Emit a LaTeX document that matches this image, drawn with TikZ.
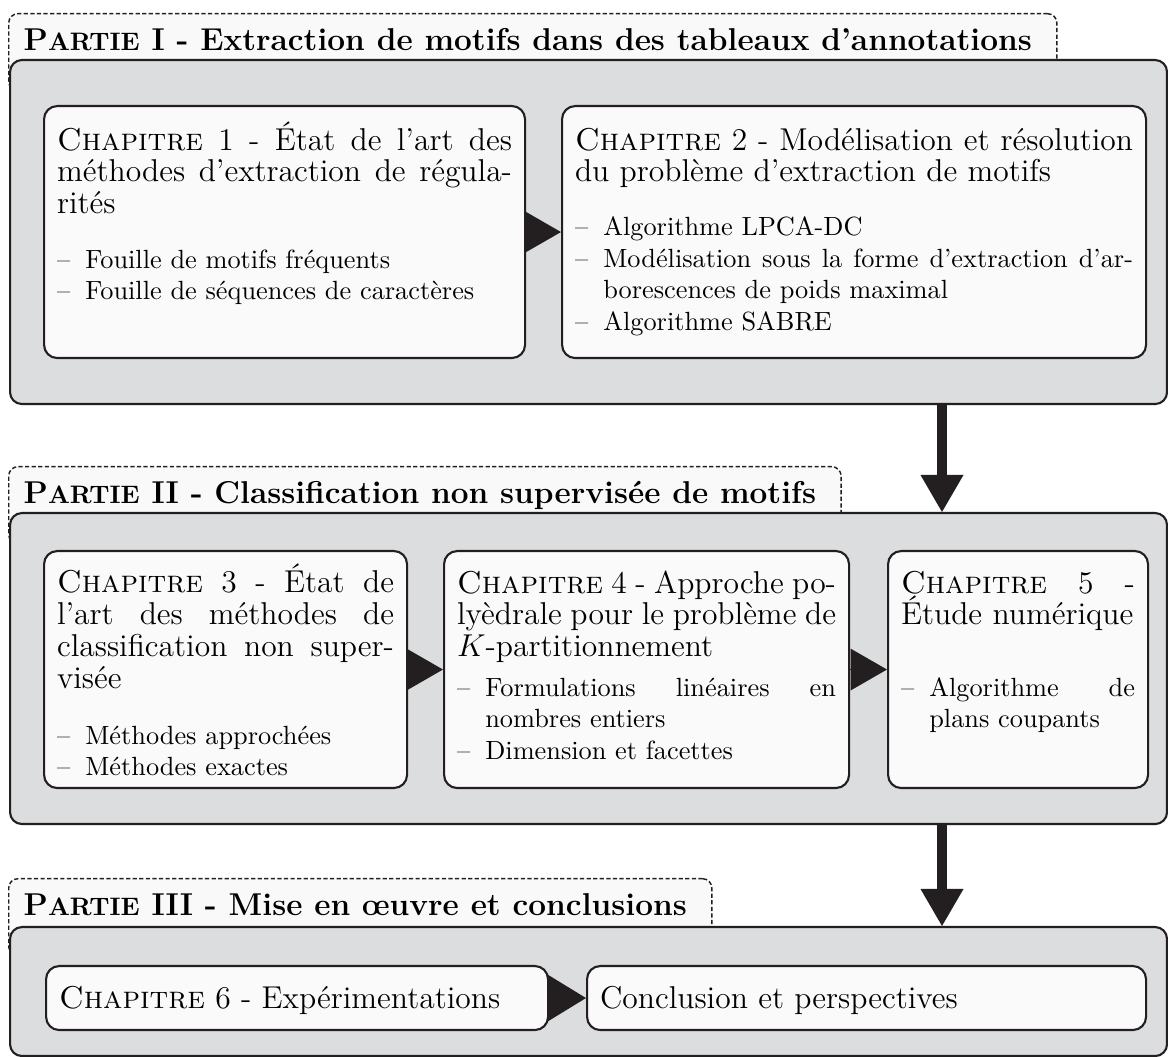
\documentclass[tikz,border=0pt]{standalone}
\usetikzlibrary{arrows.meta}
\newdimen\pxu \pxu=0.38pt
\newdimen\itind \itind=28.3\pxu
\definecolor{ink}{RGB}{35,31,32}
\definecolor{panel}{RGB}{220,221,223}
\definecolor{card}{RGB}{250,250,250}
\definecolor{tabfill}{RGB}{249,249,249}
\newcommand\hdrfont{\fontsize{12}{14}\selectfont}
\newcommand\itfont{\fontsize{10}{12}\selectfont}
\newcommand\titfont{\fontsize{12}{14}\selectfont\bfseries}
\newcommand\bsc[1]{{\fontsize{9.6}{12}\selectfont #1}}
\newcommand\xHL[1]{\hbox to\hsize{\hdrfont #1}}
\newcommand\xHN[1]{\hbox{\hdrfont #1}}
\newcommand\xIJ[1]{\hbox to\hsize{\itfont\hbox to\itind{\textendash\hss}#1}}
\newcommand\xIN[1]{\hbox{\itfont\hbox to\itind{\textendash\hss}#1}}
\newcommand\xIC[1]{\hbox{\itfont\hskip\itind #1}}
\newcommand\xNX[1]{\vskip #1\pxu}
\newcommand\xcbox[4]{\hbox to #1\pxu{\vbox to #2\pxu{\hsize=#1\pxu \baselineskip=0pt \lineskip=0pt \lineskiplimit=-\maxdimen \vskip #3\pxu \prevdepth=0pt #4\vfil}\hss}}
\tikzset{
  chap/.style={draw=ink, line width=0.8pt, fill=card, rounded corners=5pt, inner xsep=4.94pt, inner ysep=0pt, anchor=north west},
  panelbox/.style={draw=ink, line width=0.8pt, fill=panel, rounded corners=4.5pt, inner sep=0pt, anchor=north west},
  tabbox/.style={draw=ink, line width=0.55pt, dash pattern=on 1.6pt off 0.9pt, fill=tabfill, rounded corners=3.5pt, inner xsep=5.7pt, inner ysep=0pt, text height=14.06pt, text depth=15.2pt, anchor=north west},
  tri/.style={draw=ink, fill=ink, line width=0pt, -{Triangle[length=13.87pt, width=15.96pt]}},
  trib/.style={draw=ink, fill=ink, line width=0pt, -{Triangle[length=14.6pt, width=17.86pt]}},
  bigarrow/.style={draw=ink, line width=3.8pt, -{Triangle[length=14.06pt, width=16.34pt, line width=0pt]}}
}
\begin{document}
\begin{tikzpicture}[x=0.38pt, y=-0.38pt]
\useasboundingbox (0,0) rectangle (1168,1057);
\fill[white] (0,0) rectangle (1168,1057);
\coordinate (ax) at (942,0);
% ---- Partie I
\node[tabbox] (l1) at (8,13) {\titfont P\bsc{ARTIE} I - Extraction de motifs dans des tableaux d'annotations\hspace*{10\pxu}};
\node[panelbox, minimum width=439.66pt, minimum height=130.72pt] (g1) at (9,59) {};
\node[chap] (c1) at (43,105) {\xcbox{455}{252}{44}{%
\xHL{\textsc{Chapitre} 1 - État de l'art des}\xNX{31.6}%
\xHL{méthodes d'extraction de régula-}\xNX{31.6}%
\xHN{rités}\xNX{55}%
\xIN{Fouille de motifs fréquents}\xNX{31.6}%
\xIN{Fouille de séquences de caractères}}};
\node[chap] (c2) at (561,105) {\xcbox{558}{252}{44}{%
\xHL{\textsc{Chapitre} 2 - Modélisation et résolution}\xNX{31.6}%
\xHN{du problème d'extraction de motifs}\xNX{54}%
\xIN{Algorithme LPCA-DC}\xNX{31.6}%
\xIJ{Modélisation sous la forme d'extraction d'ar-}\xNX{31.6}%
\xIC{borescences de poids maximal}\xNX{31.6}%
\xIN{Algorithme SABRE}}};
\draw[tri] (c1.east) -- (c2.west);
% ---- Partie II
\node[tabbox] (l2) at (8,466) {\titfont P\bsc{ARTIE} II - Classification non supervisée de motifs\hspace*{10\pxu}};
\node[panelbox, minimum width=439.66pt, minimum height=118.18pt] (g2) at (9,512) {};
\node[chap] (c3) at (43,550) {\xcbox{337}{237}{41}{%
\xHL{\textsc{Chapitre} 3 - État de}\xNX{32}%
\xHL{l'art des méthodes de}\xNX{32}%
\xHL{classification non super-}\xNX{32}%
\xHN{visée}\xNX{56}%
\xIN{Méthodes approchées}\xNX{31}%
\xIN{Méthodes exactes}}};
\node[chap] (c4) at (443,550) {\xcbox{379}{237}{42}{%
\xHL{\textsc{Chapitre} 4 - Approche po-}\xNX{31.6}%
\xHL{lyèdrale pour le problème de}\xNX{31.6}%
\xHN{$K$-partitionnement}\xNX{40}%
\xIJ{Formulations linéaires en}\xNX{31.6}%
\xIC{nombres entiers}\xNX{31.6}%
\xIN{Dimension et facettes}}};
\node[chap] (c5) at (887,550) {\xcbox{234}{237}{42}{%
\xHL{\textsc{Chapitre} 5 -}\xNX{31.6}%
\xHN{Étude numérique}\xNX{71.4}%
\xIJ{Algorithme de}\xNX{31.6}%
\xIC{plans coupants}}};
\draw[tri] (c3.east) -- (c4.west);
\draw[tri] (c4.east) -- (c5.west);
% ---- Partie III
\node[tabbox] (l3) at (8,878) {\titfont P\bsc{ARTIE} III - Mise en œuvre et conclusions\hspace*{10\pxu}};
\node[panelbox, minimum width=439.66pt, minimum height=49.02pt] (g3) at (9,926) {};
\node[chap] (c6) at (45,965) {\xcbox{476}{64}{42}{\xHN{\textsc{Chapitre} 6 - Expérimentations}}};
\node[chap] (c7) at (586,965) {\xcbox{533}{64}{42}{\xHN{Conclusion et perspectives}}};
\draw[trib] (c6.east) -- (c7.west);
% ---- big arrows
\draw[bigarrow] (g1.south -| ax) -- (g2.north -| ax);
\draw[bigarrow] (g2.south -| ax) -- (g3.north -| ax);
\end{tikzpicture}
\end{document}
